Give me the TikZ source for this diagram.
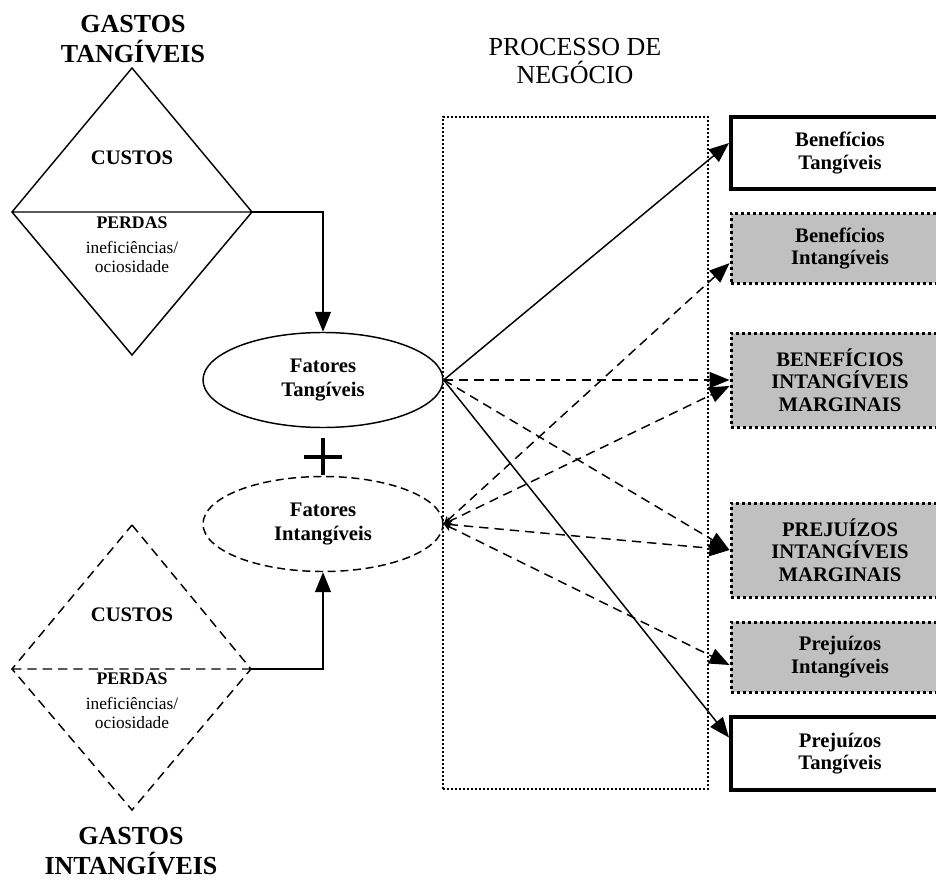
\documentclass[tikz,border=0pt]{standalone}
\usepackage{fontspec}
\setmainfont{Liberation Serif}
\usetikzlibrary{shapes.geometric,arrows.meta}
\definecolor{boxgray}{RGB}{192,192,192}
\begin{document}
\begin{tikzpicture}[x=0.75pt,y=-0.75pt,
  every node/.style={inner sep=0pt, align=center},
  title/.style={font=\fontsize{19.5}{22.5}\selectfont\bfseries},
  lbl/.style={font=\fontsize{15.5}{17}\selectfont\bfseries},
  elbl/.style={font=\fontsize{15.5}{18.5}\selectfont\bfseries},
  small/.style={font=\fontsize{13.3}{15}\selectfont\bfseries},
  plain/.style={font=\fontsize{13}{14}\selectfont},
  thin/.style={line width=1.1pt},
  dashline/.style={line width=1.1pt, dash pattern=on 7pt off 4.5pt},
  bigtip/.style={-{Triangle[length=15pt,width=12pt]}},
  twotip/.style={{Stealth[length=6pt,width=6pt]}-{Triangle[length=15pt,width=12pt]}},
  fator/.style={ellipse, draw, line width=1.1pt, minimum width=180pt, minimum height=71.25pt, elbl},
  tanbox/.style={draw, line width=3pt, fill=white, minimum width=163.5pt, lbl},
  intbox/.style={draw, line width=2.25pt, dash pattern=on 2.25pt off 2.25pt, fill=boxgray, minimum width=163.5pt, lbl},
]
\useasboundingbox (0,0) rectangle (936,881);
\clip (0,0) rectangle (936,881);

% titles
\node[title] (gtan) at (133,39) {GASTOS\\TANGÍVEIS};
\node[title] (gint) at (131,851) {GASTOS\\INTANGÍVEIS};
\node[font=\fontsize{19.5}{20.5}\selectfont] (proctitle) at (575,61) {PROCESSO DE\\NEGÓCIO};

% business process frame
\node[draw, line width=1.5pt, dash pattern=on 1.5pt off 1.5pt,
      minimum width=198.75pt, minimum height=504pt] (proc) at (575.5,453) {};

% tangible expenses diamond
\coordinate (dt-t) at (132,68);
\coordinate (dt-l) at (12,212);
\coordinate (dt-r) at (252,212);
\coordinate (dt-b) at (132,355);
\draw[thin] (dt-t) -- (dt-r) -- (dt-b) -- (dt-l) -- cycle (dt-l) -- (dt-r);
\node[lbl] (dt-c) at (132,158) {CUSTOS};
\node[small] (dt-p) at (132,223) {PERDAS};
\node[plain, anchor=base] (dt-i) at (132,253) {ineficiências/};
\node[plain, anchor=base] (dt-o) at (132,272) {ociosidade};

% intangible expenses diamond
\coordinate (db-t) at (132,525);
\coordinate (db-l) at (12,669);
\coordinate (db-r) at (251,669);
\coordinate (db-b) at (132,810);
\draw[dashline] (db-t) -- (db-r) -- (db-b) -- (db-l) -- cycle (db-l) -- (db-r);
\node[lbl] (db-c) at (132,615) {CUSTOS};
\node[small] (db-p) at (132,679) {PERDAS};
\node[plain, anchor=base] (db-i) at (132,709) {ineficiências/};
\node[plain, anchor=base] (db-o) at (132,728) {ociosidade};

% factors
\node[fator] (ft) at (323,380) {Fatores\\Tangíveis};
\node[fator, dash pattern=on 6pt off 3.5pt] (fi) at (323,524) {Fatores\\Intangíveis};
\draw[line width=3pt] (304,457) -- (342,457) (323,438) -- (323,475);

\draw[thin, bigtip] (dt-r) -| (ft.north);
\draw[thin, bigtip] (db-r) -| (fi.south);

% outcomes
\node[tanbox, minimum height=54pt] (bentan) at (840,153) {Benefícios\\Tangíveis};
\node[intbox, minimum height=52pt] (benint) at (840,248.5) {Benefícios\\Intangíveis};
\node[intbox, minimum height=70.5pt] (benmar) at (840,380) {BENEFÍCIOS\\INTANGÍVEIS\\MARGINAIS};
\node[intbox, minimum height=70.5pt] (prejmar) at (840,550) {PREJUÍZOS\\INTANGÍVEIS\\MARGINAIS};
\node[intbox, minimum height=52.5pt] (prejint) at (840,657) {Prejuízos\\Intangíveis};
\node[tanbox, minimum height=55pt] (prejtan) at (840,753.5) {Prejuízos\\Tangíveis};

% links from tangible factors
\draw[thin, bigtip] (ft.east) -- ([yshift=7.5pt]bentan.west);
\draw[dashline, bigtip] (ft.east) -- (benmar.west);
\draw[dashline, bigtip] (ft.east) -- (prejmar.west);
\draw[thin, bigtip] (ft.east) -- ([yshift=12pt]prejtan.west);

% links from intangible factors
\draw[dashline, twotip] (fi.east) -- ([yshift=-11pt]benint.west);
\draw[dashline, twotip] (fi.east) -- ([yshift=-4.5pt]benmar.west);
\draw[dashline, twotip] (fi.east) -- (prejmar.west);
\draw[dashline, twotip] (fi.east) -- ([yshift=-6pt]prejint.west);
\end{tikzpicture}
\end{document}
